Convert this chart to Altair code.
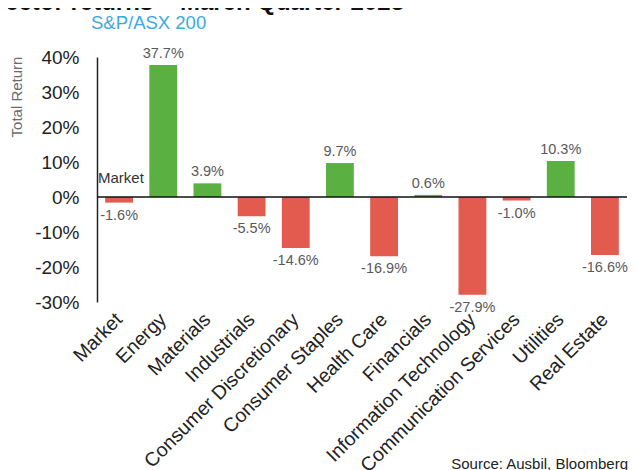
import altair as alt
import pandas as pd

sectors = ["Market", "Energy", "Materials", "Industrials", "Consumer Discretionary",
           "Consumer Staples", "Health Care", "Financials", "Information Technology",
           "Communication Services", "Utilities", "Real Estate"]
returns = [-1.6, 37.7, 3.9, -5.5, -14.6, 9.7, -16.9, 0.6, -27.9, -1.0, 10.3, -16.6]
y_ticks = [-30, -20, -10, 0, 10, 20, 30, 40]

title_text = "Sector returns \u2013 March Quarter 2023"
subtitle_text = "S&P/ASX 200"
ytitle_text = "Total Return"
source_text = "Source: Ausbil, Bloomberg"

FONT = "Liberation Sans"
GREEN = "#5BB042"
RED = "#E35A4E"
BLUE = "#3AAAE0"

df = pd.DataFrame({"sector": sectors, "ret": returns})
df["label"] = [f"{v:.1f}%" for v in returns]

W, H = 530, 245

x_scale = alt.Scale(paddingInner=0.37, paddingOuter=0.185)
y_scale = alt.Scale(domain=[-30, 40], nice=False, zero=False)

x_axis = alt.X("sector:N", sort=sectors, scale=x_scale,
               axis=alt.Axis(title=None, labelAngle=-45, labelAlign="right",
                             labelBaseline="middle", labelFontSize=19.5,
                             labelColor="#222222", labelFont=FONT, domain=False,
                             ticks=False, labelPadding=14, labelLimit=400,
                             labelOverlap=False, grid=False))
x_plain = alt.X("sector:N", sort=sectors, scale=x_scale, axis=None)
y_plain = alt.Y("ret:Q", scale=y_scale, axis=None)

base = alt.Chart(df)

bars = base.mark_bar().encode(
    x=x_axis,
    y=alt.Y("ret:Q", scale=y_scale,
            axis=alt.Axis(title=None, values=y_ticks, labelExpr="datum.value + '%'",
                          labelFontSize=19, labelColor="#222222", labelFont=FONT,
                          domainColor="#222222", domainWidth=1.5, ticks=False,
                          grid=False, labelPadding=18, labelOverlap=False,
                          labelFlush=False, labelBound=False)),
    color=alt.condition(alt.datum.ret > 0, alt.value(GREEN), alt.value(RED)),
)

zero = alt.Chart(pd.DataFrame({"z": [0]})).mark_rule(color="#111111", strokeWidth=1.5).encode(
    y=alt.Y("z:Q", scale=y_scale, axis=None))

pos_lab = base.transform_filter(alt.datum.ret >= 0).mark_text(
    baseline="bottom", dy=-4, fontSize=14.5, color="#595959", font=FONT
).encode(x=x_plain, y=y_plain, text="label:N")

neg_lab = base.transform_filter(alt.datum.ret < 0).mark_text(
    baseline="top", dy=6, fontSize=14.5, color="#595959", font=FONT
).encode(x=x_plain, y=y_plain, text="label:N")

market_lab = alt.Chart(pd.DataFrame({"t": ["Market"]})).mark_text(
    fontSize=15, color="#333333", font=FONT, align="left", baseline="middle"
).encode(x=alt.value(1), y=alt.value(121), text="t:N")

title = alt.Chart(pd.DataFrame({"t": [title_text]})).mark_text(
    fontSize=24, fontWeight="bold", color="#111111", font=FONT, align="right",
    baseline="alphabetic"
).encode(x=alt.value(307), y=alt.value(-47), text="t:N")

subtitle = alt.Chart(pd.DataFrame({"t": [subtitle_text]})).mark_text(
    fontSize=18.5, color=BLUE, font=FONT, align="left", baseline="middle"
).encode(x=alt.value(-6), y=alt.value(-34), text="t:N")

ytitle = alt.Chart(pd.DataFrame({"t": [ytitle_text]})).mark_text(
    fontSize=15, color="#6b6b6b", font=FONT, align="center", baseline="middle", angle=270
).encode(x=alt.value(-80), y=alt.value(40), text="t:N")

source = alt.Chart(pd.DataFrame({"t": [source_text]})).mark_text(
    fontSize=15, color="#222222", font=FONT, align="right", baseline="alphabetic"
).encode(x=alt.value(531), y=alt.value(412), text="t:N")

chart = alt.layer(
    bars, zero, pos_lab, neg_lab, market_lab, title, subtitle, ytitle, source
).resolve_axis(x="independent", y="independent").properties(
    width=W, height=H,
    autosize=alt.AutoSizeParams(type="none"),
    padding={"left": 89, "top": 49, "right": 1, "bottom": 168},
).configure(background="white", view=alt.ViewConfig(stroke=None))

chart.save("out.html", embed_options={"renderer": "svg", "actions": False})
